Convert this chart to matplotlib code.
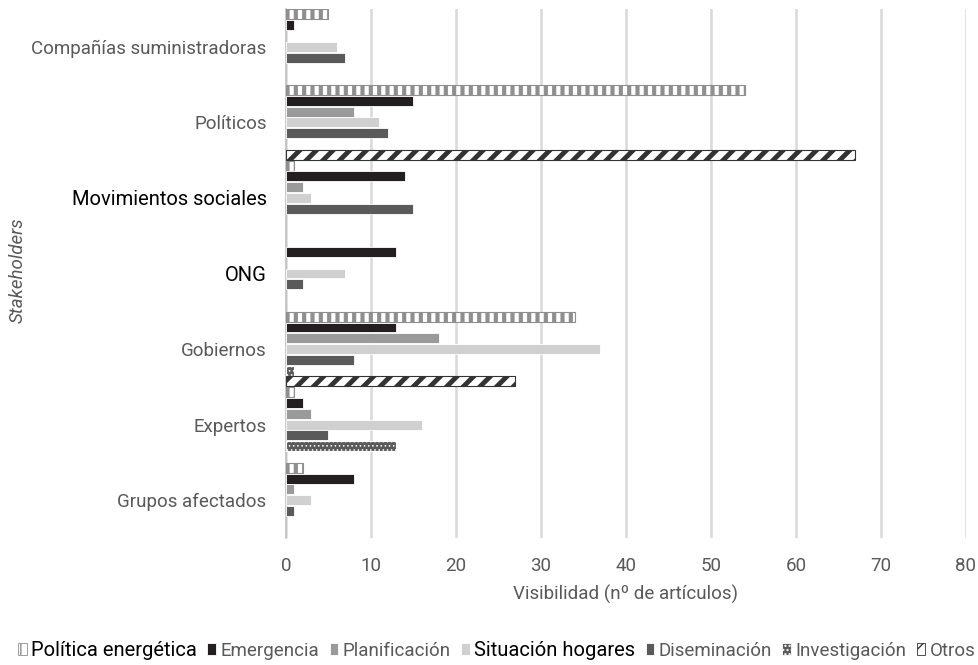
import numpy as np
import matplotlib
matplotlib.use('Agg')
import matplotlib.pyplot as plt
from matplotlib.patches import Patch

plt.rcParams['font.family'] = ['Roboto', 'DejaVu Sans']

# categories, top to bottom
categories = ['Compañías suministradoras', 'Políticos', 'Movimientos sociales',
              'ONG', 'Gobiernos', 'Expertos', 'Grupos afectados']
series = ['Política energética', 'Emergencia', 'Planificación', 'Situación hogares',
          'Diseminación', 'Investigación', 'Otros']

politica_energetica = [5, 54, 1, 0, 34, 1, 2]
emergencia = [1, 15, 14, 13, 13, 2, 8]
planificacion = [0, 8, 2, 0, 18, 3, 1]
situacion_hogares = [6, 11, 3, 7, 37, 16, 3]
diseminacion = [7, 12, 15, 2, 8, 5, 1]
investigacion = [0, 0, 0, 0, 1, 13, 0]
otros = [0, 67, 0, 0, 27, 0, 0]

values = [politica_energetica, emergencia, planificacion, situacion_hogares,
          diseminacion, investigacion, otros]

# style per series: facecolor, hatch, hatch/edge colour, hatch line width
styles = [
    dict(facecolor='white', hatch='||', edgecolor='#8f8f8f', hlw=3.0),
    dict(facecolor='#231f20', hatch=None, edgecolor='white', hlw=1.0),
    dict(facecolor='#9a9a9a', hatch=None, edgecolor='white', hlw=1.0),
    dict(facecolor='#d0d0d0', hatch=None, edgecolor='white', hlw=1.0),
    dict(facecolor='#5a5a5a', hatch=None, edgecolor='white', hlw=1.0),
    dict(facecolor='#5a5a5a', hatch='....', edgecolor='white', hlw=0.6),
    dict(facecolor='white', hatch='//', edgecolor='#333333', hlw=3.5),
]

dark_labels = ['Movimientos sociales', 'ONG']
dark_legend = ['Política energética', 'Situación hogares']
gray = '#595959'

fig = plt.figure(figsize=(9.79, 6.65), dpi=100)
ax = fig.add_axes([286 / 979, 1 - 538 / 665, 680 / 979, 529 / 665])

n = len(categories)
k = len(series)
slot = 1.0 / k
pos = np.arange(n)[::-1]  # top category has highest y

for i, (name, vals, st) in enumerate(zip(series, values, styles)):
    vals = np.array(vals, dtype=float)
    y = pos + 0.5 - slot * (i + 0.5)
    keep = vals > 0
    lw = 0.8 if st['hatch'] else 0.6
    with plt.rc_context({'hatch.linewidth': st['hlw']}):
        ax.barh(y[keep], vals[keep], height=slot * 0.92, facecolor=st['facecolor'],
                edgecolor=st['edgecolor'], hatch=st['hatch'], linewidth=lw, zorder=3)

ax.set_xlim(0, 80)
ax.set_ylim(-0.5, n - 0.5)
ax.set_xticks(np.arange(0, 81, 10))
ax.set_yticks(pos)
ax.set_yticklabels(categories)
ax.grid(axis='x', color='#d9d9d9', linewidth=1.8, zorder=0)
ax.set_axisbelow(True)
for s in ['top', 'right', 'bottom']:
    ax.spines[s].set_visible(False)
ax.spines['left'].set_color('#bfbfbf')
ax.spines['left'].set_linewidth(1.2)
ax.tick_params(axis='both', length=0, labelsize=13.5, colors=gray)
ax.tick_params(axis='y', pad=14)
ax.tick_params(axis='x', pad=14)
for lab in ax.get_yticklabels():
    if lab.get_text() in dark_labels:
        lab.set_color('black')
        lab.set_fontsize(14.5)

ax.set_xlabel('Visibilidad (nº de artículos)', fontsize=13.5, color=gray, labelpad=7)
fig.text(18 / 979, 1 - 270 / 665, 'Stakeholders', rotation=90, style='italic',
         fontsize=13.5, color=gray, ha='center', va='center')

handles = []
for st in styles:
    with plt.rc_context({'hatch.linewidth': min(st['hlw'], 1.2)}):
        handles.append(Patch(facecolor=st['facecolor'], edgecolor=st['edgecolor'],
                             hatch=st['hatch'], linewidth=0.6))
leg = fig.legend(handles, series, loc='center', bbox_to_anchor=(497 / 979, 1 - 650 / 665),
                 ncol=7, frameon=False, fontsize=13.5, handlelength=0.45, handleheight=0.6,
                 handletextpad=0.25, columnspacing=0.55, borderaxespad=0)
for t in leg.get_texts():
    if t.get_text() in dark_legend:
        t.set_color('black')
        t.set_fontsize(14.5)
    else:
        t.set_color(gray)

fig.savefig('out.png', dpi=100)
